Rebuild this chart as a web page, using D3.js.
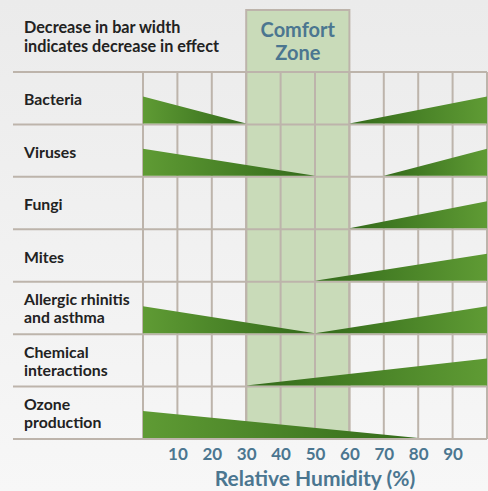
<!DOCTYPE html>
<html><head><meta charset="utf-8">
<script src="https://cdn.jsdelivr.net/npm/d3@7/dist/d3.min.js"></script>
<style>html,body{margin:0;padding:0;background:#f2f2f2;}svg{display:block;}</style>
</head><body>
<script>
const categories = ["Bacteria","Viruses","Fungi","Mites","Allergic rhinitis\nand asthma","Chemical\ninteractions","Ozone\nproduction"];
// each wedge: [rhStart, effectStart, rhEnd, effectEnd] (effect 1 = full width, 0 = none)
const bacteria = [[0,1,30,0],[60,0,100,1]];
const viruses = [[0,1,50,0],[70,0,100,1]];
const fungi = [[60,0,100,1]];
const mites = [[50,0,100,1]];
const allergic = [[0,1,50,0],[50,0,100,1]];
const chemical = [[30,0,100,1]];
const ozone = [[0,1,80,0]];
const wedges = [bacteria, viruses, fungi, mites, allergic, chemical, ozone];
const comfortZone = [30, 60];
const tickValues = [10,20,30,40,50,60,70,80,90];
const gridValues = [0,10,20,30,40,50,60,70,80,90,100];
const headerText = ["Decrease in bar width","indicates decrease in effect"];
const comfortLabel = ["Comfort","Zone"];
const axisTitle = "Relative Humidity (%)";

const W = 488, H = 491;
const FONT = "Lato, 'Open Sans', sans-serif";
const GRID = "#bdb4ab", LIGHT = "#5f9b34", DARK = "#336a1a", BLUE = "#4b7690";

const svg = d3.select("body").append("svg").attr("width", W).attr("height", H);
const defs = svg.append("defs");
const bg = defs.append("linearGradient").attr("id","bg").attr("x1",0).attr("y1",0).attr("x2",0).attr("y2",1);
bg.append("stop").attr("offset",0).attr("stop-color","#ebebeb");
bg.append("stop").attr("offset",1).attr("stop-color","#f7f7f7");
svg.append("rect").attr("width",W).attr("height",H).attr("fill","url(#bg)");

const x = d3.scaleLinear().domain([0,100]).range([143,487]);
const y = d3.scaleBand().domain(categories).range([72,439]).padding(0);
const h = d3.scaleLinear().domain([0,1]).range([0, y.bandwidth()*0.515]);

// comfort zone fill
svg.append("rect").attr("x",x(comfortZone[0])).attr("y",10)
  .attr("width",x(comfortZone[1])-x(comfortZone[0])).attr("height",y.range()[1]-10)
  .attr("fill","#c9dbb9");

// vertical grid
svg.append("g").selectAll("line").data(gridValues).join("line")
  .attr("x1",d=>x(d)).attr("x2",d=>x(d)).attr("y1",72).attr("y2",439)
  .attr("stroke",GRID).attr("stroke-width",2);
// horizontal grid
const hl = categories.map(c=>y(c)).concat([y.range()[1]]);
svg.append("g").selectAll("line").data(hl).join("line")
  .attr("x1",13).attr("x2",487).attr("y1",d=>d).attr("y2",d=>d)
  .attr("stroke",GRID).attr("stroke-width",2);

// comfort outline
svg.append("rect").attr("x",x(comfortZone[0])).attr("y",10)
  .attr("width",x(comfortZone[1])-x(comfortZone[0])).attr("height",y.range()[1]-10)
  .attr("fill","none").attr("stroke",GRID).attr("stroke-width",2);

// wedges
let gid = 0;
categories.forEach((c,i)=>{
  const base = y(c) + y.bandwidth() - 1;
  wedges[i].forEach(w=>{
    const [x0,e0,x1,e1] = w;
    const id = "g"+(gid++);
    const g = defs.append("linearGradient").attr("id",id).attr("gradientUnits","userSpaceOnUse")
      .attr("x1",x(x0)).attr("x2",x(x1)).attr("y1",0).attr("y2",0);
    g.append("stop").attr("offset",0).attr("stop-color", e0>e1?LIGHT:DARK);
    g.append("stop").attr("offset",1).attr("stop-color", e0>e1?DARK:LIGHT);
    const pts = [[x(x0),base],[x(x0),base-h(e0)],[x(x1),base-h(e1)],[x(x1),base]];
    svg.append("path").attr("d", d3.line()(pts)+"Z").attr("fill","url(#"+id+")");
  });
});

// row labels
categories.forEach(c=>{
  const lines = c.split("\n");
  const cy = y(c) + y.bandwidth()/2;
  const t = svg.append("text").attr("font-family",FONT).attr("font-weight",700)
    .attr("font-size",15.8).attr("fill","#222");
  lines.forEach((l,j)=>{
    const by = lines.length===1 ? cy+7 : cy-2.5+j*18;
    t.append("tspan").attr("x",24).attr("y",by).text(l);
  });
});

// header
headerText.forEach((l,j)=>{
  svg.append("text").attr("x",24).attr("y",33+j*19).attr("font-family",FONT).attr("font-weight",700)
    .attr("font-size",16.2).attr("fill","#222").text(l);
});

// comfort label
comfortLabel.forEach((l,j)=>{
  svg.append("text").attr("x",(x(comfortZone[0])+x(comfortZone[1]))/2).attr("y",36.5+j*23.5)
    .attr("text-anchor","middle").attr("font-family",FONT).attr("font-weight",700)
    .attr("font-size",20).attr("fill",BLUE).text(l);
});

// x axis
const ax = svg.append("g").attr("transform","translate(0,446)")
  .call(d3.axisBottom(x).tickValues(tickValues).tickSize(0).tickFormat(d3.format("d")));
ax.select(".domain").remove();
ax.selectAll("text").attr("font-family",FONT).attr("font-weight",700).attr("font-size",17)
  .attr("fill",BLUE).attr("dy","0.71em").attr("y",2);

svg.append("text").attr("x",x(50)).attr("y",486).attr("text-anchor","middle")
  .attr("font-family",FONT).attr("font-weight",700).attr("font-size",21).attr("fill",BLUE).text(axisTitle);
</script>
</body></html>
